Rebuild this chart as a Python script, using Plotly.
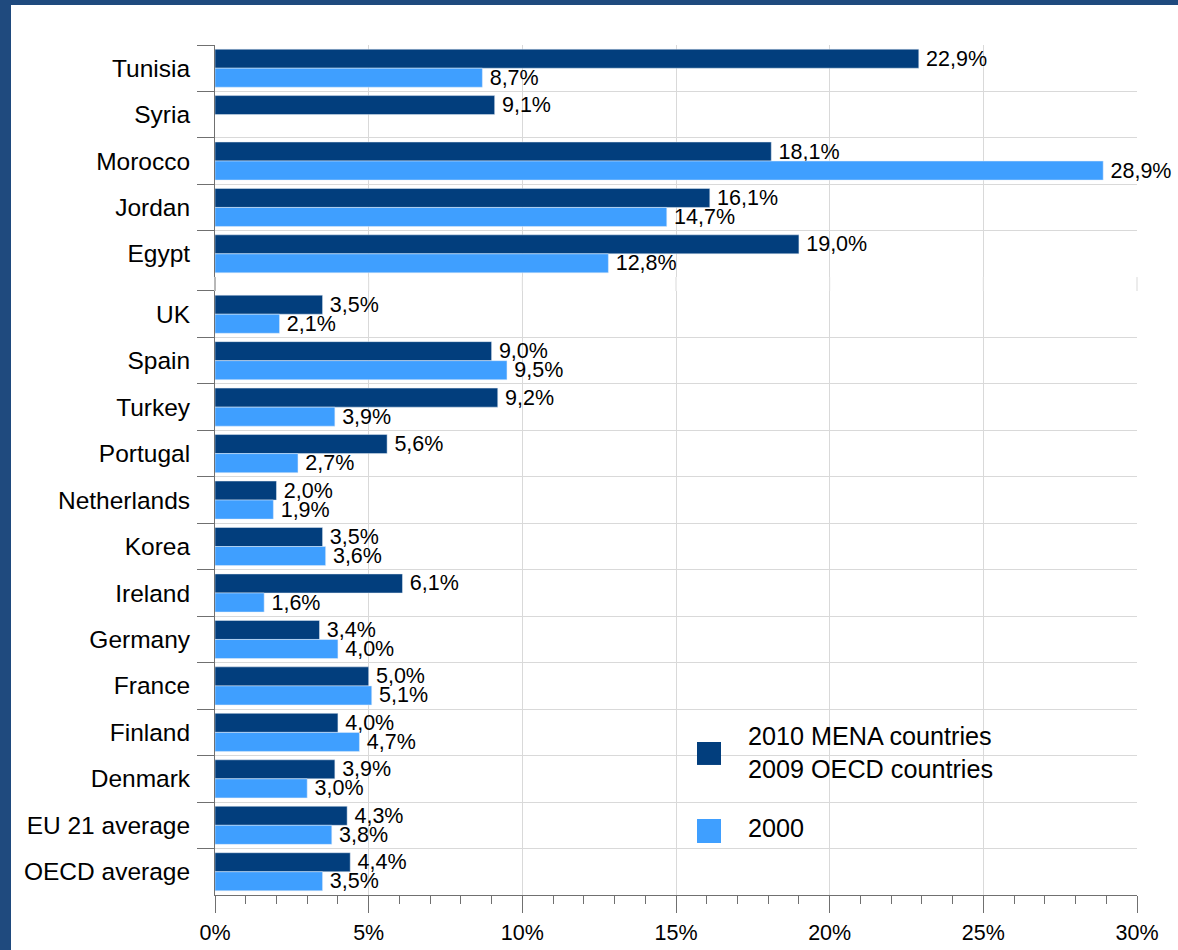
import plotly.graph_objects as go

# ---- data ----
mena_countries = ["Tunisia", "Syria", "Morocco", "Jordan", "Egypt"]
mena_recent = [22.9, 9.1, 18.1, 16.1, 19.0]
mena_2000 = [8.7, None, 28.9, 14.7, 12.8]

oecd_countries = ["UK", "Spain", "Turkey", "Portugal", "Netherlands", "Korea",
                  "Ireland", "Germany", "France", "Finland", "Denmark",
                  "EU 21 average", "OECD average"]
oecd_recent = [3.5, 9.0, 9.2, 5.6, 2.0, 3.5, 6.1, 3.4, 5.0, 4.0, 3.9, 4.3, 4.4]
oecd_2000 = [2.1, 9.5, 3.9, 2.7, 1.9, 3.6, 1.6, 4.0, 5.1, 4.7, 3.0, 3.8, 3.5]

x_ticks = [0, 5, 10, 15, 20, 25, 30]
x_tick_labels = ["0%", "5%", "10%", "15%", "20%", "25%", "30%"]
legend_recent = "2010 MENA countries<br>2009 OECD countries"
legend_old = "2000"

# ---- style ----
DARK = "#023e7d"
LIGHT = "#3f9fff"
GRID = "#d9d9d9"
AXIS = "#707070"
FONT = "Liberation Sans, Arial, sans-serif"
BORDER = "#1f4a7e"
X_MAX = x_ticks[-1]

fig = go.Figure()

common = dict(orientation="h", textposition="outside", cliponaxis=False,
              constraintext="none", texttemplate="\u2009%{x:.1f}%",
              textfont=dict(size=21.5, color="black", family=FONT),
              showlegend=False, hoverinfo="skip")

fig.add_trace(go.Bar(y=mena_countries, x=mena_recent, marker_color=DARK,
                     xaxis="x2", yaxis="y2", name=legend_recent, **common))
fig.add_trace(go.Bar(y=mena_countries, x=mena_2000, marker_color=LIGHT,
                     xaxis="x2", yaxis="y2", name=legend_old, **common))
fig.add_trace(go.Bar(y=oecd_countries, x=oecd_recent, marker_color=DARK,
                     xaxis="x", yaxis="y", name=legend_recent, **common))
fig.add_trace(go.Bar(y=oecd_countries, x=oecd_2000, marker_color=LIGHT,
                     xaxis="x", yaxis="y", name=legend_old, **common))

top_dom = [0.727, 1.0]
bot_dom = [0.0, 0.7106]

yax_common = dict(type="category", autorange="reversed", tickson="boundaries",
                  ticks="outside", ticklen=17, tickcolor=AXIS, tickwidth=1,
                  showgrid=True, gridcolor=GRID, gridwidth=1,
                  showline=True, linecolor=AXIS, linewidth=1,
                  ticklabelstandoff=19, automargin=False,
                  tickfont=dict(size=24.5, color="black", family=FONT))

fig.update_layout(
    width=1178, height=950,
    margin=dict(l=215, r=41, t=45, b=55, autoexpand=False),
    paper_bgcolor="white", plot_bgcolor="white",
    barmode="group", bargap=0.18, bargroupgap=0.0,
    separators=", ",
    font=dict(family=FONT, color="black"),
    xaxis=dict(anchor="y", domain=[0, 1], range=[0, X_MAX], tickmode="array",
               tickvals=x_ticks, ticktext=x_tick_labels,
               ticks="outside", ticklen=17, tickcolor=AXIS, tickwidth=1,
               showline=True, linecolor=AXIS, linewidth=1,
               showgrid=True, gridcolor=GRID, zeroline=False,
               minor=dict(dtick=1, tick0=0, ticks="outside", ticklen=8,
                          tickcolor=AXIS, showgrid=False),
               ticklabelstandoff=1, automargin=False,
               tickfont=dict(size=21.5, color="black", family=FONT)),
    xaxis2=dict(anchor="y2", domain=[0, 1], range=[0, X_MAX], matches="x",
                tickmode="array", tickvals=x_ticks, showticklabels=False,
                ticks="", showgrid=True, gridcolor=GRID, zeroline=False,
                showline=False, automargin=False),
    yaxis=dict(anchor="x", domain=bot_dom, categoryorder="array",
               categoryarray=oecd_countries, **yax_common),
    yaxis2=dict(anchor="x2", domain=top_dom, categoryorder="array",
                categoryarray=mena_countries, **yax_common),
)

shapes = []
# gridlines and axis line through the small gap between the two groups
for xv in x_ticks[1:]:
    shapes.append(dict(type="line", xref="paper", yref="paper",
                       x0=xv / X_MAX, x1=xv / X_MAX,
                       y0=bot_dom[1], y1=top_dom[0],
                       line=dict(color=GRID, width=1), layer="above"))
shapes.append(dict(type="line", xref="paper", yref="paper", x0=0, x1=0,
                   y0=bot_dom[1], y1=top_dom[0], line=dict(color=AXIS, width=1)))
# frame (left and top dark-blue border)
shapes.append(dict(type="rect", xref="paper", yref="paper", xsizemode="pixel",
                   xanchor=0, x0=-230, x1=-204, y0=-1, y1=2,
                   fillcolor=BORDER, line=dict(width=0)))
shapes.append(dict(type="rect", xref="paper", yref="paper", ysizemode="pixel",
                   yanchor=1, y0=40, y1=60, x0=-1, x1=2,
                   fillcolor=BORDER, line=dict(width=0)))
# manual legend swatches
shapes.append(dict(type="rect", xref="paper", yref="paper",
                   x0=0.5228, x1=0.5488, y0=0.153, y1=0.180,
                   fillcolor=DARK, line=dict(width=0)))
shapes.append(dict(type="rect", xref="paper", yref="paper",
                   x0=0.5228, x1=0.5488, y0=0.0612, y1=0.0894,
                   fillcolor=LIGHT, line=dict(width=0)))
fig.update_layout(shapes=shapes)

fig.add_annotation(xref="paper", yref="paper", x=0.576, y=0.1676,
                   xanchor="left", yanchor="middle", showarrow=False,
                   align="left", text=legend_recent,
                   font=dict(size=25.2, color="black", family=FONT))
fig.add_annotation(xref="paper", yref="paper", x=0.576, y=0.0788,
                   xanchor="left", yanchor="middle", showarrow=False,
                   align="left", text=legend_old,
                   font=dict(size=25.2, color="black", family=FONT))

fig.write_html("out.html", config={"displayModeBar": False},
               post_script="document.body.style.margin='0';document.body.style.padding='0';")
